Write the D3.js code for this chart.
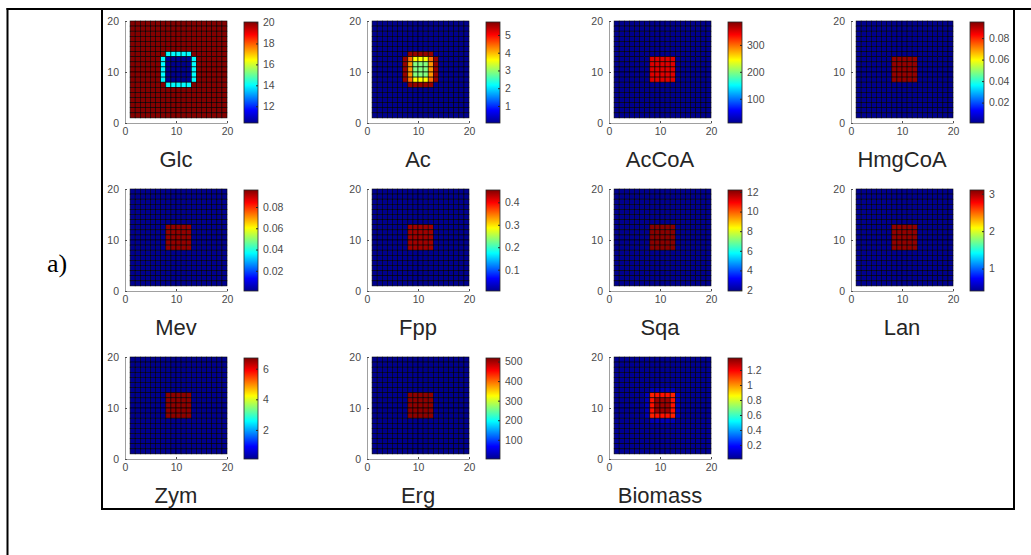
<!DOCTYPE html>
<html>
<head>
<meta charset="utf-8" />
<title>Species maps</title>
<script src="https://cdn.jsdelivr.net/npm/d3@7"></script>
<style>
  body { margin: 0; background: #fff; }
  svg { display: block; }
  .tick text { font-family: 'Liberation Sans', Arial, sans-serif; font-size: 10.5px; fill: #4a4a4a; }
  .title { font-family: 'Liberation Sans', Arial, sans-serif; font-size: 22px; fill: #262626; }
  .label { font-family: 'Liberation Serif', 'Times New Roman', serif; font-size: 26px; fill: #000; }
</style>
</head>
<body>
<svg id="fig"></svg>
<script>
// panel names, in reading order
const names = ['Glc', 'Ac', 'AcCoA', 'HmgCoA', 'Mev', 'Fpp', 'Sqa', 'Lan', 'Zym', 'Erg', 'Biomass'];

// colour limits of each colorbar [min, max]
const limits = [
  [10.4, 20.05], [0.04, 5.73], [10, 385], [0.001, 0.095],
  [0.001, 0.096], [0.005, 0.455], [1.9, 12.2], [0.4, 3.1],
  [0.1, 6.7], [2, 518], [0.013, 1.36]
];

// colorbar tick labels
const cbTicks = [
  [12, 14, 16, 18, 20], [1, 2, 3, 4, 5], [100, 200, 300], [0.02, 0.04, 0.06, 0.08],
  [0.02, 0.04, 0.06, 0.08], [0.1, 0.2, 0.3, 0.4], [2, 4, 6, 8, 10, 12], [1, 2, 3],
  [2, 4, 6], [100, 200, 300, 400, 500], [0.2, 0.4, 0.6, 0.8, 1, 1.2]
];

// value of every cell outside the centre patch
const background = [20, 0.04, 10, 0.001, 0.001, 0.005, 1.9, 0.4, 0.1, 2, 0.02];

// centre 7x7 patch of each map: rows from top 6..12, columns 6..12 (null = background)
const _ = null;
const block = (v) => [
  [_, _, _, _, _, _, _],
  [_, v, v, v, v, v, _],
  [_, v, v, v, v, v, _],
  [_, v, v, v, v, v, _],
  [_, v, v, v, v, v, _],
  [_, v, v, v, v, v, _],
  [_, _, _, _, _, _, _]
];
const patches = [
  [
    [_, 14, 14, 14, 14, 14, _],
    [14, 10.4, 10.4, 10.4, 10.4, 10.4, 14],
    [14, 10.4, 10.4, 10.4, 10.4, 10.4, 14],
    [14, 10.4, 10.4, 10.4, 10.4, 10.4, 14],
    [14, 10.4, 10.4, 10.4, 10.4, 10.4, 14],
    [14, 10.4, 10.4, 10.4, 10.4, 10.4, 14],
    [_, 14, 14, 14, 14, 14, _]
  ],
  [
    [_, 5.6, 5.6, 5.6, 5.6, 5.6, _],
    [5.6, 4.4, 3.6, 3.6, 3.6, 4.4, 5.6],
    [5.6, 4.2, 2.9, 2.9, 2.9, 4.2, 5.6],
    [5.6, 4.2, 2.9, 2.9, 2.9, 4.2, 5.6],
    [5.6, 4.2, 2.9, 2.9, 2.9, 4.2, 5.6],
    [5.6, 4.4, 3.6, 3.6, 3.6, 4.4, 5.6],
    [_, 5.6, 5.6, 5.6, 5.6, 5.6, _]
  ],
  block(350),
  block(0.093),
  block(0.094),
  block(0.44),
  block(12.1),
  block(3.05),
  block(6.6),
  block(510),
  [
    [_, 0.07, 0.07, 0.07, 0.07, 0.07, _],
    [0.07, 1.15, 1.17, 1.17, 1.17, 1.15, 0.07],
    [0.07, 1.17, 1.32, 1.32, 1.32, 1.17, 0.07],
    [0.07, 1.17, 1.32, 1.32, 1.32, 1.17, 0.07],
    [0.07, 1.17, 1.32, 1.32, 1.32, 1.17, 0.07],
    [0.07, 1.15, 1.17, 1.17, 1.17, 1.15, 0.07],
    [_, 0.07, 0.07, 0.07, 0.07, 0.07, _]
  ]
];

const axisTicks = [0, 10, 20];
const jetStops = [0, 0.125, 0.375, 0.625, 0.875, 1];
const jetColors = ['#000090', '#0000ff', '#00ffff', '#ffff00', '#ff0000', '#800000'];

const width = 1031, height = 555;
const size = 102;          // axes box
const colStep = 242, rowStep = 168;
const left0 = 125, top0 = 21;
const fmt = d3.format('~g');

const svg = d3.select('#fig').attr('width', width).attr('height', height);

// frames
svg.append('line').attr('x1', 7.5).attr('x2', 7.5).attr('y1', 8).attr('y2', height).attr('stroke', '#000').attr('stroke-width', 2);
svg.append('line').attr('x1', 6.5).attr('x2', width).attr('y1', 9).attr('y2', 9).attr('stroke', '#000').attr('stroke-width', 2);
svg.append('rect').attr('x', 102).attr('y', 9).attr('width', 912).attr('height', 500)
  .attr('fill', 'none').attr('stroke', '#000').attr('stroke-width', 2);

svg.append('text').attr('class', 'label').attr('x', 47).attr('y', 272).text('a)');

const grad = svg.append('defs').append('linearGradient').attr('id', 'jet')
  .attr('x1', 0).attr('y1', 1).attr('x2', 0).attr('y2', 0);
grad.selectAll('stop').data(jetStops).join('stop')
  .attr('offset', (d) => d).attr('stop-color', (d, i) => jetColors[i]);

names.forEach((name, k) => {
  const col = k % 4, row = Math.floor(k / 4);
  const x0 = left0 + col * colStep;
  const y0 = top0 + row * rowStep;
  const [lo, hi] = limits[k];

  const x = d3.scaleLinear().domain([0, 20]).range([x0, x0 + size]);
  const y = d3.scaleLinear().domain([0, 20]).range([y0 + size, y0]);
  const color = d3.scaleLinear()
    .domain(jetStops.map((t) => lo + t * (hi - lo)))
    .range(jetColors).clamp(true);

  const cells = [];
  for (let r = 0; r < 19; r++) {
    for (let c = 0; c < 19; c++) {
      const pr = r - 6, pc = c - 6;
      let v = background[k];
      if (pr >= 0 && pr < 7 && pc >= 0 && pc < 7 && patches[k][pr][pc] !== null) {
        v = patches[k][pr][pc];
      }
      cells.push({ c, j: 18 - r, v });
    }
  }

  const g = svg.append('g');

  g.append('g').selectAll('rect').data(cells).join('rect')
    .attr('x', (d) => x(d.c + 1))
    .attr('y', (d) => y(d.j + 2))
    .attr('width', (d) => x(d.c + 2) - x(d.c + 1))
    .attr('height', (d) => y(d.j + 1) - y(d.j + 2))
    .attr('fill', (d) => color(d.v))
    .attr('stroke', '#000')
    .attr('stroke-width', 0.6);

  const xAxis = g.append('g').attr('transform', `translate(0,${y(0)})`)
    .call(d3.axisBottom(x).tickValues(axisTicks).tickFormat(fmt).tickSizeInner(-2).tickSizeOuter(0).tickPadding(5));
  const yAxis = g.append('g').attr('transform', `translate(${x(0)},0)`)
    .call(d3.axisLeft(y).tickValues(axisTicks).tickFormat(fmt).tickSizeInner(-2).tickSizeOuter(0).tickPadding(6));
  [xAxis, yAxis].forEach((a) => {
    a.select('.domain').attr('stroke', '#a0a0a0');
    a.selectAll('.tick line').attr('stroke', '#505050');
  });

  // colorbar
  const cbX = x0 + 119, cbW = 14;
  const cb = d3.scaleLinear().domain([lo, hi]).range([y0 + size, y0 + 1]);
  g.append('rect').attr('x', cbX).attr('y', y0 + 1).attr('width', cbW).attr('height', size - 1)
    .attr('fill', 'url(#jet)').attr('stroke', '#262626').attr('stroke-width', 0.8);
  const cbAxis = g.append('g').attr('transform', `translate(${cbX + cbW},0)`)
    .call(d3.axisRight(cb).tickValues(cbTicks[k]).tickFormat(fmt).tickSizeInner(-2).tickSizeOuter(0).tickPadding(5));
  cbAxis.select('.domain').remove();
  cbAxis.selectAll('.tick line').attr('stroke', '#262626');

  g.append('text').attr('class', 'title')
    .attr('x', x(10)).attr('y', y0 + 146)
    .attr('text-anchor', 'middle').text(name);
});
</script>
</body>
</html>
